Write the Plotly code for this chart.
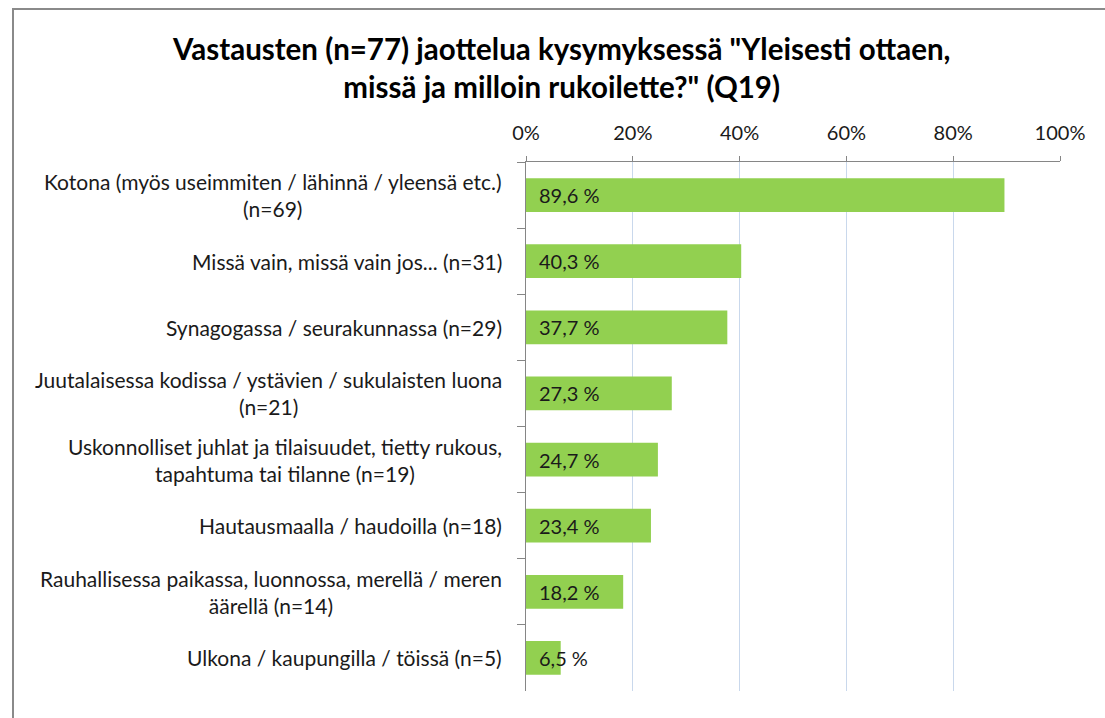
import plotly.graph_objects as go

categories = [
    "Kotona (myös useimmiten / lähinnä / yleensä etc.)<br>(n=69)",
    "Missä vain, missä vain jos... (n=31)",
    "Synagogassa / seurakunnassa (n=29)",
    "Juutalaisessa kodissa / ystävien / sukulaisten luona<br>(n=21)",
    "Uskonnolliset juhlat ja tilaisuudet, tietty rukous,<br>tapahtuma tai tilanne (n=19)",
    "Hautausmaalla / haudoilla (n=18)",
    "Rauhallisessa paikassa, luonnossa, merellä / meren<br>äärellä (n=14)",
    "Ulkona / kaupungilla / töissä (n=5)",
]
values = [89.6, 40.3, 37.7, 27.3, 24.7, 23.4, 18.2, 6.5]
tick_vals = [0, 0.2, 0.4, 0.6, 0.8, 1.0]
tick_text = ["0%", "20%", "40%", "60%", "80%", "100%"]

title_text = ('Vastausten (n=77) jaottelua kysymyksessä "Yleisesti ottaen,<br>'
              'missä ja milloin rukoilette?" (Q19)')

FONT = "Lato, Carlito, Calibri, sans-serif"
GREEN = "#92D050"

fig = go.Figure()
fig.add_trace(go.Bar(
    y=categories,
    x=[v / 100 for v in values],
    orientation="h",
    marker=dict(color=GREEN, line=dict(width=0)),
    hoverinfo="skip",
))

W, H = 1105, 718
L, R, T, B = 526, 45, 162, 27
pw, ph = W - L - R, H - T - B

def px_x(p):
    return (p - L) / pw

def px_y(p):
    return (H - B - p) / ph

annotations = []
# value labels at the bar base
for c, v in zip(categories, values):
    annotations.append(dict(
        x=0, y=c, xref="x", yref="y", text=f"{v:.1f} %".replace(".", ","),
        showarrow=False, xanchor="left", xshift=11,
        font=dict(family=FONT, size=20, color="#1a1a1a"),
    ))
# category labels, centred lines
for c in categories:
    annotations.append(dict(
        x=0, y=c, xref="paper", yref="y", text=c, align="center",
        showarrow=False, xanchor="right", xshift=-22,
        font=dict(family=FONT, size=21, color="#1a1a1a"),
    ))
annotations.append(dict(
    x=px_x(561), y=px_y(67), xref="paper", yref="paper", text=f"<b>{title_text}</b>",
    showarrow=False, xanchor="center", yanchor="middle", align="center",
    font=dict(family=FONT, size=29.5, color="#000"),
))

fig.update_layout(
    width=W, height=H,
    margin=dict(l=L, r=R, t=T, b=B),
    paper_bgcolor="white", plot_bgcolor="white",
    showlegend=False,
    bargap=0.49,
    annotations=annotations,
    shapes=[dict(
        type="rect", xref="paper", yref="paper",
        x0=px_x(13), x1=px_x(1130), y0=px_y(9), y1=px_y(740),
        line=dict(color="#8a8a8a", width=2), fillcolor="rgba(0,0,0,0)", layer="below",
    )],
    xaxis=dict(
        side="top", range=[0, 1], tickvals=tick_vals, ticktext=tick_text,
        showgrid=True, gridcolor="#C9D8EC", gridwidth=1,
        showline=True, linecolor="#868686", linewidth=1,
        ticks="outside", ticklen=5, tickcolor="#868686",
        ticklabelstandoff=8,
        tickfont=dict(family=FONT, size=20, color="#1a1a1a"),
        zeroline=False, fixedrange=True,
    ),
    yaxis=dict(
        autorange="reversed", showticklabels=False,
        showline=True, linecolor="#868686", linewidth=1,
        ticks="outside", tickson="boundaries", ticklen=8, tickcolor="#868686",
        showgrid=False, zeroline=False, fixedrange=True,
    ),
)

fig.write_html("out.html", config={"displayModeBar": False})
